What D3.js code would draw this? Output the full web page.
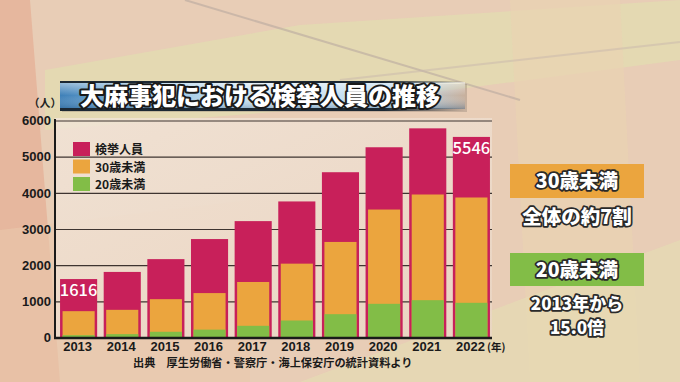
<!DOCTYPE html>
<html><head><meta charset="utf-8">
<script src="https://cdn.jsdelivr.net/npm/d3@7"></script>
<style>html,body{margin:0;padding:0;background:#e7cdb6;}svg{display:block;}</style>
</head><body>
<script>
const years = ["2013","2014","2015","2016","2017","2018","2019","2020","2021","2022"];
const total = [1616,1813,2167,2722,3218,3762,4570,5260,5783,5546];
const under30 = [728,765,1060,1228,1535,2042,2642,3538,3954,3871];
const under20 = [64,93,158,218,323,470,645,931,1032,959];
const yTicks = [0,1000,2000,3000,4000,5000,6000];
const legendLabels = ["検挙人員","30歳未満","20歳未満"];
const colors = ["#c8205a","#eba53e","#82bd47"];
const labelled = {"2013":1616,"2022":5546};

const W=680,H=382;
const font='"Noto Sans CJK JP","Noto Sans",sans-serif';
const numFont='"Liberation Sans",Arial,sans-serif';
const svg=d3.select("body").append("svg").attr("width",W).attr("height",H);
const defs=svg.append("defs");

// background
svg.append("rect").attr("width",W).attr("height",H).attr("fill","#e8cdb6");
const bg=svg.append("g");
bg.append("polygon").attr("points","0,0 30,0 60,382 0,382").attr("fill","#e6b79e");
bg.append("polygon").attr("points","45,70 300,25 680,0 680,60 300,110 45,130").attr("fill","#e3dab1").attr("opacity",0.85);
bg.append("polygon").attr("points","510,0 620,0 640,382 530,382").attr("fill","#ead3b2").attr("opacity",0.7);
bg.append("polygon").attr("points","0,230 250,200 250,382 0,382").attr("fill","#e9c8ac").attr("opacity",0.6);
bg.append("polygon").attr("points","300,382 680,240 680,382").attr("fill","#e6dcb4").attr("opacity",0.7);
bg.append("line").attr("x1",185).attr("y1",0).attr("x2",520).attr("y2",100).attr("stroke","#b9a9a0").attr("stroke-width",2).attr("opacity",0.6);
bg.append("line").attr("x1",340).attr("y1",80).attr("x2",680).attr("y2",42).attr("stroke","#c9b8ae").attr("stroke-width",2).attr("opacity",0.5);

// plot area background
const pg=defs.append("linearGradient").attr("id","pg").attr("x1",0).attr("y1",0).attr("x2",1).attr("y2",1);
pg.append("stop").attr("offset","0%").attr("stop-color","#f2e6da");
pg.append("stop").attr("offset","100%").attr("stop-color","#ead6c4");
svg.append("rect").attr("x",55).attr("y",118).attr("width",437).attr("height",220).attr("fill","url(#pg)").attr("opacity",0.8);

const x=d3.scaleBand().domain(years).range([57,493]).paddingInner(0.15).paddingOuter(0.07);
const y=d3.scaleLinear().domain([0,6000]).range([337.5,120.5]);

// grid
const yAxis=d3.axisLeft(y).tickValues(yTicks).tickSize(-437).tickFormat(d3.format("d"));
const ga=svg.append("g").attr("transform","translate(55,0)").call(yAxis);
ga.select(".domain").remove();
ga.selectAll(".tick line").attr("stroke","#3e3430").attr("stroke-width",1.2);
ga.selectAll(".tick text").attr("x",-4).attr("font-family",numFont).attr("font-weight",700).attr("font-size",13).attr("fill","#1a1a1a");

svg.append("text").attr("x",45).attr("y",107).attr("text-anchor","middle").attr("font-family",font).attr("font-weight",700).attr("font-size",11).attr("fill","#222").text("（人）");

// bars
const bars=svg.append("g");
bars.selectAll(".t").data(years).join("rect").attr("x",d=>x(d)).attr("width",x.bandwidth())
  .attr("y",(d,i)=>y(total[i])).attr("height",(d,i)=>y(0)-y(total[i])).attr("fill",colors[0]);
bars.selectAll(".o").data(years).join("rect").attr("x",d=>x(d)+2.5).attr("width",x.bandwidth()-5)
  .attr("y",(d,i)=>y(under30[i])).attr("height",(d,i)=>y(0)-y(under30[i])).attr("fill",colors[1]);
bars.selectAll(".g").data(years).join("rect").attr("x",d=>x(d)+2.5).attr("width",x.bandwidth()-5)
  .attr("y",(d,i)=>y(under20[i])).attr("height",(d,i)=>y(0)-y(under20[i])).attr("fill",colors[2]);

// value labels
years.forEach((yr,i)=>{
  if(labelled[yr]!==undefined){
    svg.append("text").attr("x",x(yr)+x.bandwidth()/2).attr("y",y(total[i])+17).attr("text-anchor","middle")
      .attr("font-family",font).attr("font-weight",500).attr("font-size",16.5).attr("fill","#fff").text(labelled[yr]);
  }
});

// axes lines
svg.append("line").attr("x1",55).attr("x2",55).attr("y1",119).attr("y2",338.5).attr("stroke","#1a1a1a").attr("stroke-width",2);
svg.append("line").attr("x1",54).attr("x2",492).attr("y1",338).attr("y2",338).attr("stroke","#1a1a1a").attr("stroke-width",2.5);

// x axis labels
const xa=svg.append("g").attr("transform","translate(0,338)").call(d3.axisBottom(x).tickSize(0).tickPadding(4));
xa.select(".domain").remove();
xa.selectAll("text").attr("font-family",numFont).attr("font-weight",700).attr("font-size",13).attr("fill","#1a1a1a").attr("dx",-1);
svg.append("text").attr("x",487).attr("y",351).attr("font-family",font).attr("font-weight",700).attr("font-size",10.5).attr("fill","#1a1a1a").text("(年)");

// legend
legendLabels.forEach((l,i)=>{
  svg.append("rect").attr("x",73).attr("y",142+i*17.5).attr("width",17).attr("height",14).attr("fill",colors[i]);
  svg.append("text").attr("x",95).attr("y",154+i*17.5).attr("font-family",font).attr("font-weight",700).attr("font-size",12).attr("fill","#1a1a1a").text(l);
});

// title banner
const tg=defs.append("linearGradient").attr("id","tg").attr("x1",0).attr("y1",0).attr("x2",1).attr("y2",0);
[["0%","#3e80b8",1],["20%","#8dbde0",1],["50%","#d6e9f5",1],["85%","#b9d7ec",1],["100%","#b9d7ec",0]].forEach(s=>
  tg.append("stop").attr("offset",s[0]).attr("stop-color",s[1]).attr("stop-opacity",s[2]));
const sh=defs.append("linearGradient").attr("id","sh").attr("x1",0).attr("y1",0).attr("x2",0).attr("y2",1);
[["0%","#ffffff",0.5],["50%","#ffffff",0],["100%","#1b4e7e",0.35]].forEach(s=>
  sh.append("stop").attr("offset",s[0]).attr("stop-color",s[1]).attr("stop-opacity",s[2]));
const fade=defs.append("linearGradient").attr("id","fade").attr("x1",0).attr("y1",0).attr("x2",1).attr("y2",0);
[["0%","#1c2833",1],["80%","#1c2833",1],["100%","#1c2833",0]].forEach(s=>
  fade.append("stop").attr("offset",s[0]).attr("stop-color",s[1]).attr("stop-opacity",s[2]));
svg.append("rect").attr("x",62).attr("y",84).attr("width",405).attr("height",28).attr("fill","#8a7a70").attr("opacity",0.35);
svg.append("rect").attr("x",60).attr("y",82).attr("width",405).attr("height",27).attr("fill","url(#tg)");
svg.append("rect").attr("x",60).attr("y",82).attr("width",405).attr("height",27).attr("fill","url(#sh)");
svg.append("rect").attr("x",60).attr("y",81).attr("width",405).attr("height",2).attr("fill","url(#fade)");
svg.append("rect").attr("x",60).attr("y",108).attr("width",405).attr("height",3).attr("fill","url(#fade)");
svg.append("text").attr("x",260).attr("y",104.5).attr("text-anchor","middle").attr("font-family",font).attr("font-weight",900)
  .attr("font-size",24).attr("fill","#fff").attr("stroke","#1a1a1a").attr("stroke-width",4).attr("paint-order","stroke")
  .attr("stroke-linejoin","round").text("大麻事犯における検挙人員の推移");

// right annotations
function outlined(t,xx,yy,size){
  svg.append("text").attr("x",xx).attr("y",yy).attr("text-anchor","middle").attr("font-family",font).attr("font-weight",900)
    .attr("font-size",size).attr("fill","#fff").attr("stroke","#2a2a2a").attr("stroke-width",3.5).attr("paint-order","stroke")
    .attr("stroke-linejoin","round").text(t);
}
svg.append("rect").attr("x",510).attr("y",164).attr("width",134).attr("height",34).attr("fill","#eba53e");
outlined("30歳未満",577,188,19.5);
outlined("全体の約7割",577,224,19.5);
svg.append("rect").attr("x",510).attr("y",253).attr("width",134).attr("height",33).attr("fill","#82bd47");
outlined("20歳未満",577,277,19.5);
outlined("2013年から",577,310,17);
outlined("15.0倍",577,334,17);

// source
svg.append("text").attr("x",133).attr("y",367).attr("font-family",font).attr("font-weight",700).attr("font-size",11.2).attr("fill","#1a1a1a")
  .text("出典　厚生労働省・警察庁・海上保安庁の統計資料より");
</script>
</body></html>
